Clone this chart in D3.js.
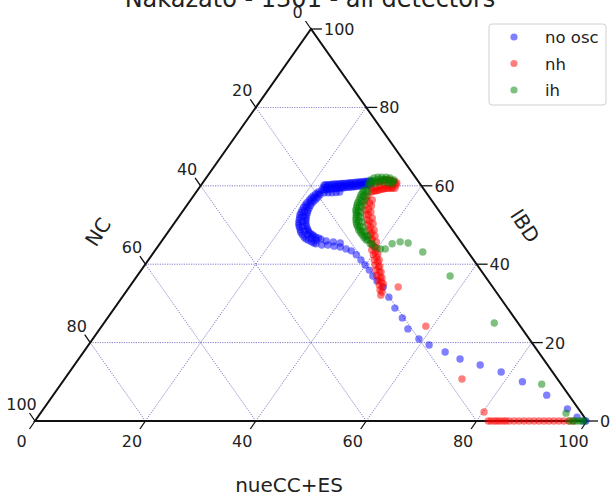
<!DOCTYPE html>
<html>
<head>
<meta charset="utf-8">
<script src="https://cdn.jsdelivr.net/npm/d3@7"></script>
<style>
  body { margin: 0; background: white; }
  text { font-family: "DejaVu Sans", sans-serif; fill: #222; }
</style>
</head>
<body>
<svg width="613" height="497"></svg>
<script>
// ternary data: nueCC+ES (bottom), IBD (right); NC = 100 - both
const seriesNames = ["no osc", "nh", "ih"];
const seriesColors = ["blue", "red", "green"];
const tickValues = [0, 20, 40, 60, 80, 100];
const gridValues = [20, 40, 60, 80];

const noOscNue = [30.5, 29.7, 29.1, 28.4, 27.7, 27.0, 26.4, 25.7, 25.0, 24.3, 23.6, 22.9, 22.3,
  30.1, 29.4, 28.7, 28.1, 27.4, 26.7, 26.0, 25.3, 24.7, 24.0, 23.3, 22.6,
  30.5, 29.9, 29.2, 28.5, 27.8, 27.2, 26.5, 25.8, 25.1, 24.5, 23.8, 23.1, 22.4,
  30.3, 29.6, 28.9, 28.2, 27.6, 26.9, 26.2, 25.6, 24.9, 24.2, 23.5, 22.9,
  30.6, 29.9, 29.2, 28.6, 27.9, 27.2, 26.5, 25.9, 25.2, 24.5, 23.8, 23.2, 22.5,
  26.0, 25.4, 24.7, 24.0, 23.3,
  22.1, 21.7, 21.5, 21.4, 21.5, 21.7, 22.2, 22.8, 23.7, 24.7, 25.9, 27.2, 28.3,
  21.9, 21.6, 21.4, 21.4, 21.6, 22.0, 22.5, 23.2, 24.1, 25.3, 26.5, 27.8,
  22.4, 22.1, 21.9, 21.9, 22.1, 22.5, 23.0, 23.7, 24.6, 25.6, 26.7, 27.9,
  22.7, 22.5, 22.4, 22.6, 23.0, 23.5, 24.2, 25.1, 26.0, 26.9, 28.0,
  22.8, 22.6, 22.4, 22.5, 22.8, 23.2, 23.8, 24.7, 25.5, 26.5, 27.4, 28.6,
  29.8, 31.2, 32.6,
  29.5, 30.6, 31.9, 33.1, 34.4, 35.6, 37.0, 38.5, 39.9, 41.3, 42.7, 44.1, 46.0,
  48.3, 50.8, 53.4, 55.8, 59.1, 61.7, 65.5, 69.1, 73.5, 78.2, 83.3, 89.4, 94.9, 97.7, 99.3, 99.8];
const noOscIbd = [61.2, 61.2, 61.1, 61.0, 60.9, 60.8, 60.7, 60.6, 60.5, 60.5, 60.4, 60.3, 60.2,
  61.2, 61.1, 61.0, 60.9, 60.8, 60.7, 60.6, 60.6, 60.5, 60.4, 60.3, 60.2,
  60.7, 60.6, 60.5, 60.4, 60.3, 60.2, 60.1, 60.0, 59.9, 59.8, 59.7, 59.6, 59.6,
  60.2, 60.1, 60.0, 59.8, 59.7, 59.6, 59.5, 59.4, 59.3, 59.2, 59.1, 59.0,
  60.2, 60.1, 60.0, 59.9, 59.8, 59.7, 59.6, 59.5, 59.4, 59.3, 59.2, 59.0, 58.9,
  58.4, 58.3, 58.2, 58.2, 58.2,
  58.4, 57.4, 56.4, 55.1, 53.8, 52.6, 51.3, 50.0, 48.7, 47.5, 46.4, 45.7, 45.2,
  57.9, 56.9, 55.7, 54.5, 53.2, 51.9, 50.6, 49.4, 48.1, 46.9, 46.1, 45.4,
  58.0, 57.0, 56.0, 54.7, 53.4, 52.2, 50.9, 49.6, 48.5, 47.5, 46.7, 46.1,
  57.1, 56.1, 55.0, 53.7, 52.4, 51.2, 49.9, 48.7, 47.8, 47.2, 46.7,
  57.7, 56.6, 55.6, 54.3, 53.1, 51.8, 50.5, 49.2, 48.2, 47.5, 46.9, 46.4,
  45.9, 45.7, 45.4,
  44.9, 44.9, 44.6, 44.4, 43.9, 43.4, 42.4, 41.1, 39.8, 38.5, 37.0, 35.7, 34.2,
  31.6, 28.8, 26.3, 23.5, 20.9, 19.4, 17.6, 15.8, 14.3, 12.5, 10.0, 6.6, 3.1, 1.0, 0.0, 0.0];

const nhNue = [35.2, 34.3, 33.4, 32.7, 32.1, 31.5,
  34.7, 33.8, 33.0, 32.4, 31.8,
  35.3, 34.6, 33.9, 33.1, 32.5, 31.9, 31.3,
  35.1, 34.4, 33.8, 33.2, 32.6, 32.0,
  35.5, 34.8, 34.1, 33.5, 32.9, 32.3, 31.7,
  31.6, 31.8, 32.2, 32.9, 33.7, 34.5, 35.3, 36.2, 37.0, 37.8, 38.6, 39.2, 40.1, 40.9, 41.7, 42.5, 43.3, 44.2, 45.0, 45.8, 46.6,
  32.8, 33.4, 34.1, 35.1, 36.0, 37.0, 37.9,
  39.3, 40.1, 41.0, 41.8, 42.6, 43.4, 44.2, 45.0, 45.8, 46.4,
  32.9, 33.5, 34.2, 35.2, 36.1, 37.1, 38.0, 39.0, 39.9, 40.8, 41.8, 42.7, 43.7, 44.6, 45.6,
  48.7, 58.7, 72.0, 80.2,
  82.1, 82.6, 83.2, 83.7, 84.2, 84.8, 85.3, 85.9, 86.8, 87.7, 88.6, 89.5, 90.4, 91.3, 92.2, 93.1, 94.0, 94.9, 95.8, 96.7, 97.5];
const nhIbd = [60.7, 61.2, 61.5, 61.5, 61.2, 61.0,
  61.0, 61.4, 61.5, 61.4, 61.1,
  60.2, 60.2, 60.2, 60.2, 60.0, 59.7, 59.4,
  59.4, 59.4, 59.3, 59.1, 58.8, 58.6,
  59.4, 59.4, 59.4, 59.2, 58.9, 58.7, 58.4,
  57.4, 56.4, 55.1, 53.8, 52.6, 51.3, 50.0, 48.7, 47.5, 46.2, 44.9, 43.6, 42.4, 41.1, 39.8, 38.5, 37.2, 36.0, 34.7, 33.4, 32.1,
  55.6, 54.1, 52.6, 51.0, 49.5, 48.0, 46.4,
  44.4, 43.1, 41.8, 40.6, 39.3, 38.0, 36.7, 35.5, 34.2, 32.9,
  56.4, 54.9, 53.3, 51.8, 50.3, 48.7, 47.2, 45.7, 44.1, 42.6, 41.1, 39.5, 38.0, 36.5, 35.0,
  34.2, 24.2, 10.7, 2.3,
  0, 0, 0, 0, 0, 0, 0, 0, 0, 0, 0, 0, 0, 0, 0, 0, 0, 0, 0, 0, 0];

const ihNue = [34.3, 33.3, 32.5, 31.7, 31.0, 30.4, 30.0,
  34.4, 33.5, 32.6, 31.9, 31.2, 30.6, 30.2,
  34.4, 33.6, 32.7, 32.0, 31.4, 30.8, 30.4,
  30.1, 30.2, 30.5, 30.8, 31.2, 31.9, 32.5, 33.3, 34.3, 35.5, 36.9, 38.1, 39.4, 40.6, 41.5,
  30.2, 30.4, 30.6, 31.0, 31.6, 32.2, 32.9, 33.8, 34.9, 36.2,
  30.6, 30.8, 31.1, 31.4, 31.8, 32.5, 33.2, 34.0, 35.0, 36.2, 37.2, 38.5,
  31.1, 31.4, 31.7, 31.9, 32.4, 33.0, 33.9, 34.7, 35.7, 36.7,
  42.1, 43.3, 44.9, 48.7, 56.7, 70.7, 87.1, 95.2,
  96.9, 97.5, 98.0, 98.6, 99.1, 99.6];
const ihIbd = [61.5, 62.0, 62.2, 62.2, 62.2, 62.0, 61.5,
  61.0, 61.4, 61.6, 61.6, 61.5, 61.2, 60.7,
  60.5, 60.7, 61.0, 61.0, 60.7, 60.5, 60.0,
  58.9, 57.7, 56.4, 55.1, 53.8, 52.6, 51.3, 50.0, 48.7, 47.5, 46.2, 45.2, 44.4, 43.9, 43.9,
  58.3, 57.0, 55.7, 54.5, 53.2, 51.9, 50.6, 49.4, 48.1, 46.8,
  58.7, 57.4, 56.1, 54.9, 53.6, 52.3, 51.0, 49.7, 48.5, 47.2, 46.2, 45.2,
  58.4, 57.1, 55.9, 54.6, 53.3, 52.0, 50.8, 49.5, 48.2, 47.2,
  45.2, 45.7, 45.4, 43.1, 37.0, 25.0, 9.4, 2.0,
  0, 0, 0, 0, 0, 0];

const seriesNue = [noOscNue, nhNue, ihNue];
const seriesIbd = [noOscIbd, nhIbd, ihIbd];

const svg = d3.select("svg");

// cartesian x = nue + ibd/2, y = ibd
const x = d3.scaleLinear().domain([0, 100]).range([35, 587]);
const y = d3.scaleLinear().domain([0, 100]).range([421, 29]);
const px = (nue, ibd) => x(nue + ibd / 2);
const py = (nue, ibd) => y(ibd);

// gridlines
const grid = svg.append("g")
  .attr("stroke", "#2a2aa8")
  .attr("stroke-width", 0.7)
  .attr("stroke-dasharray", "1.2,1.2")
  .attr("opacity", 0.85);

gridValues.forEach(v => {
  // IBD constant
  grid.append("line")
    .attr("x1", px(0, v)).attr("y1", py(0, v))
    .attr("x2", px(100 - v, v)).attr("y2", py(100 - v, v));
  // nue constant
  grid.append("line")
    .attr("x1", px(v, 0)).attr("y1", py(v, 0))
    .attr("x2", px(v, 100 - v)).attr("y2", py(v, 100 - v));
  // NC constant
  grid.append("line")
    .attr("x1", px(100 - v, 0)).attr("y1", py(100 - v, 0))
    .attr("x2", px(0, 100 - v)).attr("y2", py(0, 100 - v));
});

// boundary
svg.append("path")
  .attr("d", d3.line()([[px(0, 0), py(0, 0)], [px(100, 0), py(100, 0)], [px(0, 100), py(0, 100)]]) + "Z")
  .attr("fill", "none")
  .attr("stroke", "#111")
  .attr("stroke-width", 2);

// ticks
const ticks = svg.append("g").attr("stroke", "#111").attr("stroke-width", 1.3);
const labels = svg.append("g").attr("font-size", 16);

tickValues.forEach(v => {
  // bottom axis (nueCC+ES)
  let bx = px(v, 0), by = py(v, 0);
  ticks.append("line").attr("x1", bx).attr("y1", by).attr("x2", bx - 5.5).attr("y2", by + 8);
  labels.append("text").attr("x", bx - 13.5).attr("y", by + 26)
    .attr("text-anchor", "middle").text(v);

  // right axis (IBD)
  let rx = px(100 - v, v), ry = py(100 - v, v);
  ticks.append("line").attr("x1", rx).attr("y1", ry).attr("x2", rx + 11).attr("y2", ry);
  labels.append("text").attr("x", rx + 13).attr("y", ry + 6).text(v);

  // left axis (NC)
  let lx = px(0, 100 - v), ly = py(0, 100 - v);
  ticks.append("line").attr("x1", lx).attr("y1", ly).attr("x2", lx - 5.5).attr("y2", ly - 8);
  labels.append("text").attr("x", lx - 13.5).attr("y", ly - 11)
    .attr("text-anchor", "middle").text(v);
});

// axis titles
svg.append("text").attr("x", 289).attr("y", 492).attr("text-anchor", "middle")
  .attr("font-size", 20).text("nueCC+ES");
svg.append("text").attr("transform", "translate(98,232) rotate(-57)")
  .attr("text-anchor", "middle").attr("dy", "0.35em")
  .attr("font-size", 20).text("NC");
svg.append("text").attr("transform", "translate(525,226) rotate(57)")
  .attr("text-anchor", "middle").attr("dy", "0.35em")
  .attr("font-size", 20).text("IBD");

// title (partly cut off at the top)
svg.append("text").attr("x", 310).attr("y", 7).attr("text-anchor", "middle")
  .attr("font-size", 24).text("Nakazato - 1301 - all detectors");

// points
seriesNames.forEach((name, i) => {
  const pts = d3.range(seriesNue[i].length).map(k => [seriesNue[i][k], seriesIbd[i][k]]);
  svg.append("g").selectAll("circle")
    .data(pts)
    .enter().append("circle")
    .attr("cx", d => px(d[0], d[1]))
    .attr("cy", d => py(d[0], d[1]))
    .attr("r", 3.7)
    .attr("fill", seriesColors[i])
    .attr("fill-opacity", 0.5);
});

// legend
const legend = svg.append("g").attr("transform", "translate(489,24)");
legend.append("rect")
  .attr("width", 117).attr("height", 81).attr("rx", 3)
  .attr("fill", "white").attr("stroke", "#d0d0d0");
seriesNames.forEach((name, i) => {
  legend.append("circle").attr("cx", 25).attr("cy", 13 + i * 26.5).attr("r", 3.6)
    .attr("fill", seriesColors[i]).attr("fill-opacity", 0.5);
  legend.append("text").attr("x", 56).attr("y", 13 + i * 26.5 + 6)
    .attr("font-size", 16.5).text(name);
});
</script>
</body>
</html>
